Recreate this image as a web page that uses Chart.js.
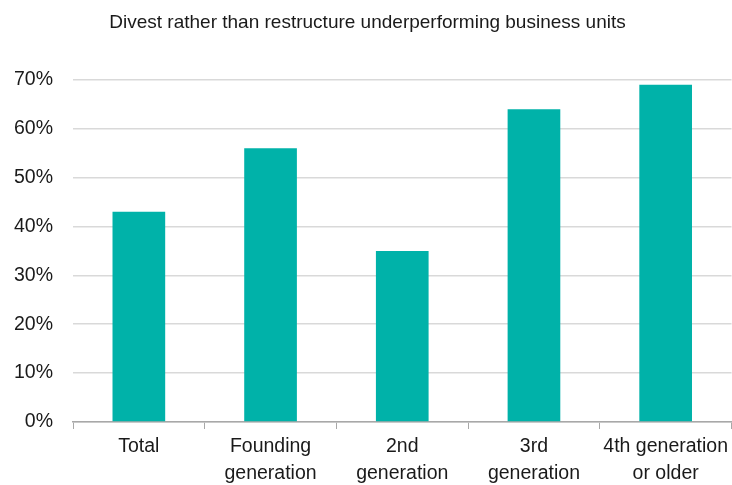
<!DOCTYPE html>
<html>
<head>
<meta charset="utf-8">
<script src="https://cdn.jsdelivr.net/npm/chart.js@4"></script>
<style>
  html, body { margin: 0; padding: 0; background: #fff; }
</style>
</head>
<body>
<canvas id="divestChart" width="732" height="485"></canvas>
<script>
const categories = ['Total', ['Founding', 'generation'], ['2nd', 'generation'], ['3rd', 'generation'], ['4th generation', 'or older']];
const divestShare = [43, 56, 35, 64, 69];
const yTicks = [0, 10, 20, 30, 40, 50, 60, 70];

const fontFamily = '"Liberation Sans", Arial, sans-serif';

var ctx = document.getElementById('divestChart').getContext('2d');
var chart = new Chart(ctx, {
    type: 'bar',
    data: {
        labels: categories,
        datasets: [{
            label: 'Divest rather than restructure underperforming business units',
            data: divestShare,
            backgroundColor: '#00B2A9',
            barPercentage: 0.4,
            categoryPercentage: 1.0
        }]
    },
    options: {
        responsive: false,
        animation: false,
        layout: { padding: { left: 0, right: -3, top: 4, bottom: 0 } },
        plugins: {
            legend: { display: false },
            tooltip: { enabled: false },
            title: {
                display: true,
                text: 'Divest rather than restructure underperforming business units',
                color: '#1a1a1a',
                font: { family: fontFamily, size: 19, weight: 'normal', lineHeight: 1.2 },
                padding: { top: 7, bottom: 46 }
            }
        },
        scales: {
            x: {
                offset: true,
                afterFit: function(axis) { axis.height = 63; },
                grid: {
                    offset: true,
                    drawOnChartArea: false,
                    drawTicks: true,
                    tickLength: 7,
                    color: '#a8a8a8'
                },
                border: { display: true, color: '#a8a8a8', width: 1.5 },
                ticks: {
                    color: '#1a1a1a',
                    font: { family: fontFamily, size: 19.5, lineHeight: 1.4 },
                    maxRotation: 0,
                    autoSkip: false,
                    padding: 4
                }
            },
            y: {
                min: 0,
                max: 70,
                afterFit: function(axis) { axis.width = 73; },
                afterBuildTicks: function(axis) {
                    axis.ticks = yTicks.map(function(v) { return { value: v }; });
                },
                grid: {
                    color: '#d9d9d9',
                    lineWidth: 1.5,
                    drawTicks: false
                },
                border: { display: false },
                ticks: {
                    color: '#1a1a1a',
                    font: { family: fontFamily, size: 19.5 },
                    padding: 20,
                    callback: function(v) { return v + '%'; }
                }
            }
        }
    }
});
</script>
</body>
</html>
